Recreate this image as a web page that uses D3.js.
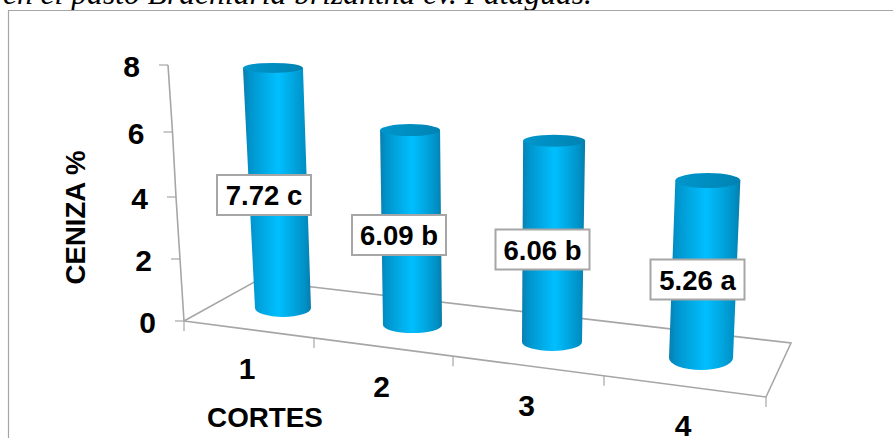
<!DOCTYPE html>
<html>
<head>
<meta charset="utf-8">
<title>Ceniza por corte</title>
<script src="https://cdnjs.cloudflare.com/ajax/libs/d3/7.8.5/d3.min.js"></script>
<style>
	html, body { margin: 0; padding: 0; background: #fff; }
	svg { display: block; }
	text { font-family: "Liberation Sans", Arial, sans-serif; font-weight: bold; fill: #000; }
	.caption { font-family: "Liberation Serif", "Times New Roman", serif; font-weight: normal; font-style: italic; font-size: 31.6px; }
</style>
</head>
<body>
<svg id="chart" width="893" height="438"></svg>
<script>
const categories = ['1', '2', '3', '4'];
const cenizaValues = [7.72, 6.09, 6.06, 5.26];
const significance = ['c', 'b', 'b', 'a'];
const yTicks = [0, 2, 4, 6, 8];

const svg = d3.select('#chart');
const axisColor = '#a6a6a6';
const order = categories.map((d, i) => i);

// perspective: the value axis and the floor edge are not evenly spaced
const yScale = d3.scaleLinear().domain(yTicks).range([321, 259, 197, 132, 65]);
const yAxisX = d3.scaleLinear().domain(yTicks).range([184, 180, 176, 172.5, 168]);
const floorX = d3.scaleLinear().domain([0, 1, 2, 3, 4]).range([184, 314, 453, 604, 766]);
const floorFrontY = d3.scaleLinear().domain([184, 766]).range([321, 397]);

// cylinder geometry per category
const baseX = d3.scaleLinear().domain(order).range([283, 412.5, 552, 701]);
const baseY = d3.scaleLinear().domain(order).range([308, 325, 342, 358]);
const unitHeight = d3.scaleLinear().domain(order).range([31.1, 32, 33.2, 33.75]);
const lean = d3.scaleLinear().domain(order).range([-1.3, -0.4, 0.35, 1.3]);
const baseRx = d3.scaleLinear().domain(order).range([28, 29.5, 30, 32]);
const topRx = d3.scaleLinear().domain(order).range([30, 30, 31, 32.5]);
const baseRy = d3.scaleLinear().domain(order).range([9, 8, 9, 12]);
const topRy = d3.scaleLinear().domain(order).range([5, 6, 6, 7.5]);

// value label boxes, centres per category
const labelX = d3.scaleLinear().domain(order).range([264, 399, 542.5, 697.5]);
const labelY = d3.scaleLinear().domain(order).range([195, 235, 249.5, 279.5]);

const defs = svg.append('defs');
const bodyGradient = defs.append('linearGradient').attr('id', 'cylinder-body');
[[0, '#0a7fae'], [0.1, '#0093cb'], [0.3, '#00a9e4'], [0.52, '#00bfff'], [0.72, '#00a8e2'], [0.92, '#008fc4'], [1, '#0a7ba8']]
	.forEach(s => bodyGradient.append('stop').attr('offset', s[0]).attr('stop-color', s[1]));
const capGradient = defs.append('linearGradient').attr('id', 'cylinder-cap');
[[0, '#0096cc'], [0.5, '#008dc0'], [1, '#0082b2']]
	.forEach(s => capGradient.append('stop').attr('offset', s[0]).attr('stop-color', s[1]));

// caption running above the chart frame
svg.append('text')
	.attr('class', 'caption')
	.attr('x', 592)
	.attr('y', 4)
	.attr('text-anchor', 'end')
	.text('en el pasto Brachiaria brizantha cv. Pataguas.');

// chart frame, open to the right and below
svg.append('path')
	.attr('d', 'M8.5,438V10.5H893')
	.attr('fill', 'none')
	.attr('stroke', axisColor)
	.attr('stroke-width', 1.2);

drawFloor();
drawYAxis();
drawXAxis();
drawCylinders();
drawLabels();

svg.append('text')
	.attr('x', 265)
	.attr('y', 427)
	.attr('text-anchor', 'middle')
	.style('font-size', '27.8px')
	.text('CORTES');

svg.append('text')
	.attr('transform', 'translate(85,217.5) rotate(-90)')
	.attr('text-anchor', 'middle')
	.style('font-size', '27.6px')
	.text('CENIZA %');

function drawFloor() {
	svg.append('path')
		.attr('d', d3.line()([[yAxisX(0), yScale(0)], [257, 280.5], [791, 343], [floorX(4), floorFrontY(floorX(4))], [yAxisX(0), yScale(0)]]))
		.attr('fill', '#fff')
		.attr('stroke', axisColor)
		.attr('stroke-width', 1.6);
}

function drawYAxis() {
	svg.append('path')
		.attr('d', d3.line()(yTicks.map(d => [yAxisX(d), yScale(d)])))
		.attr('fill', 'none')
		.attr('stroke', axisColor)
		.attr('stroke-width', 1.6);

	let ticks = svg.append('g').selectAll('g')
		.data(yTicks)
		.join('g');

	ticks.append('line')
		.attr('x1', d => yAxisX(d) - 9)
		.attr('x2', d => yAxisX(d))
		.attr('y1', d => yScale(d))
		.attr('y2', d => yScale(d))
		.attr('stroke', axisColor)
		.attr('stroke-width', 1.2);

	ticks.append('text')
		.attr('x', d => yAxisX(d) - 28)
		.attr('y', d => yScale(d) + 11.5)
		.attr('text-anchor', 'end')
		.style('font-size', '30px')
		.text(d => d);
}

function drawXAxis() {
	svg.append('g').selectAll('line')
		.data(d3.range(categories.length + 1))
		.join('line')
		.attr('x1', d => floorX(d))
		.attr('x2', d => floorX(d))
		.attr('y1', d => floorFrontY(floorX(d)))
		.attr('y2', d => floorFrontY(floorX(d)) + 10)
		.attr('stroke', axisColor)
		.attr('stroke-width', 1.2);

	svg.append('g').selectAll('text')
		.data(categories)
		.join('text')
		.attr('x', (d, i) => (floorX(i) + floorX(i + 1)) / 2 - 2)
		.attr('y', (d, i) => floorFrontY((floorX(i) + floorX(i + 1)) / 2) + 50)
		.attr('text-anchor', 'middle')
		.style('font-size', '30px')
		.text(d => d);
}

function drawCylinders() {
	let cylinders = svg.append('g').selectAll('g')
		.data(cenizaValues)
		.join('g');

	const topX = (d, i) => baseX(i) + lean(i) * d;
	const topY = (d, i) => baseY(i) - unitHeight(i) * d;

	cylinders.append('path')
		.attr('d', (d, i) => {
			let bx = baseX(i), by = baseY(i), brx = baseRx(i), bry = baseRy(i);
			let tx = topX(d, i), ty = topY(d, i), trx = topRx(i);
			return 'M' + (tx - trx) + ',' + ty +
				'L' + (bx - brx) + ',' + by +
				'A' + brx + ',' + bry + ' 0 0 0 ' + (bx + brx) + ',' + by +
				'L' + (tx + trx) + ',' + ty + 'Z';
		})
		.attr('fill', 'url(#cylinder-body)');

	cylinders.append('ellipse')
		.attr('cx', topX)
		.attr('cy', topY)
		.attr('rx', (d, i) => topRx(i))
		.attr('ry', (d, i) => topRy(i))
		.attr('fill', 'url(#cylinder-cap)');
}

function drawLabels() {
	let labels = svg.append('g').selectAll('g')
		.data(cenizaValues)
		.join('g')
		.attr('transform', (d, i) => 'translate(' + labelX(i) + ',' + labelY(i) + ')');

	labels.append('rect')
		.attr('x', -47)
		.attr('y', -20)
		.attr('width', 94)
		.attr('height', 40)
		.attr('fill', '#fff')
		.attr('stroke', axisColor)
		.attr('stroke-width', 2);

	labels.append('text')
		.attr('y', 10)
		.attr('text-anchor', 'middle')
		.style('font-size', '27.5px')
		.text((d, i) => d.toFixed(2) + ' ' + significance[i]);
}
</script>
</body>
</html>
